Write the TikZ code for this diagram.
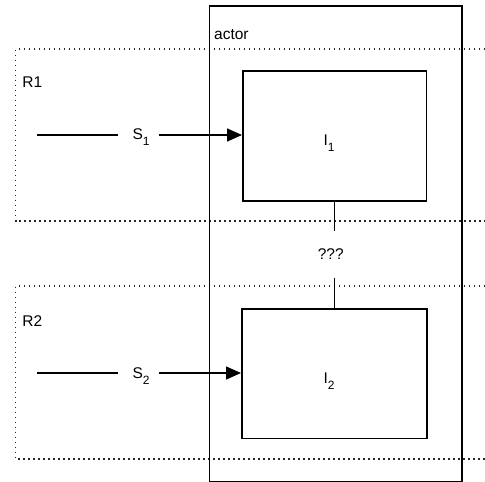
\documentclass[tikz,border=0pt]{standalone}
\usepackage{fontspec}
\setmainfont{Liberation Sans}
\usetikzlibrary{arrows.meta}
\newcommand{\mysub}[1]{\raisebox{-5.5pt}{\fontsize{12}{13}\selectfont #1}}
\begin{document}
\begin{tikzpicture}[x=1pt,y=-1pt,
  every node/.style={font=\fontsize{15.5}{17}\selectfont},
  solidline/.style={line width=1.5pt,black},
  boxstyle/.style={draw,line width=1.5pt,inner sep=0pt,anchor=north west},
  lane/.style={draw,line width=1.4pt,dash pattern=on 1.4pt off 3.6pt,black!85},
  sig/.style={anchor=base west,inner xsep=9pt,inner ysep=0pt},
  lbl/.style={anchor=base west,inner sep=0pt},
  arr/.style={solidline,-{Triangle[length=15pt,width=13pt]}}
]
\useasboundingbox (0,0) rectangle (485,482);
% swimlanes
\draw[lane] (485,49) -- (15.7,49) -- (15.7,221) -- (485,221);
\draw[lane] (485,286) -- (15.7,286) -- (15.7,459) -- (485,459);
% actor box
\node[boxstyle,minimum width=252.5pt,minimum height=475.5pt] (actor) at (208.8,5) {};
\node[lbl] (actorlbl) at (214,39) {actor};
% lane labels
\node[lbl] (r1) at (22.3,87.3) {R1};
\node[lbl] (r2) at (22.3,326) {R2};
% inner boxes
\node[boxstyle,minimum width=183.5pt,minimum height=130pt] (I1) at (242,70) {};
\node[boxstyle,minimum width=185pt,minimum height=129.5pt] (I2) at (241,308) {};
\node[lbl] (I1lbl) at (323.3,145.5) {I\mysub{1}};
\node[lbl] (I2lbl) at (323.3,383.5) {I\mysub{2}};
% signals
\coordinate (s1start) at (37,135);
\coordinate (s2start) at (37,373);
\node[sig] (S1) at (118,139.5) {\hspace{5.3pt}S\mysub{1}};
\node[sig] (S2) at (118,378.5) {\hspace{5.3pt}S\mysub{2}};
\draw[solidline] (s1start) -- (S1.west |- s1start);
\draw[arr] (S1.east |- s1start) -- (I1.west |- s1start);
\draw[solidline] (s2start) -- (S2.west |- s2start);
\draw[arr] (S2.east |- s2start) -- (I2.west |- s2start);
% link
\node[inner sep=0pt,minimum height=46pt] (q) at (330.8,254.5) {???};
\coordinate (lx) at (334.3,0);
\draw[solidline] (I1.south -| lx) -- (q.north -| lx);
\draw[solidline] (q.south -| lx) -- (I2.north -| lx);
\end{tikzpicture}
\end{document}
